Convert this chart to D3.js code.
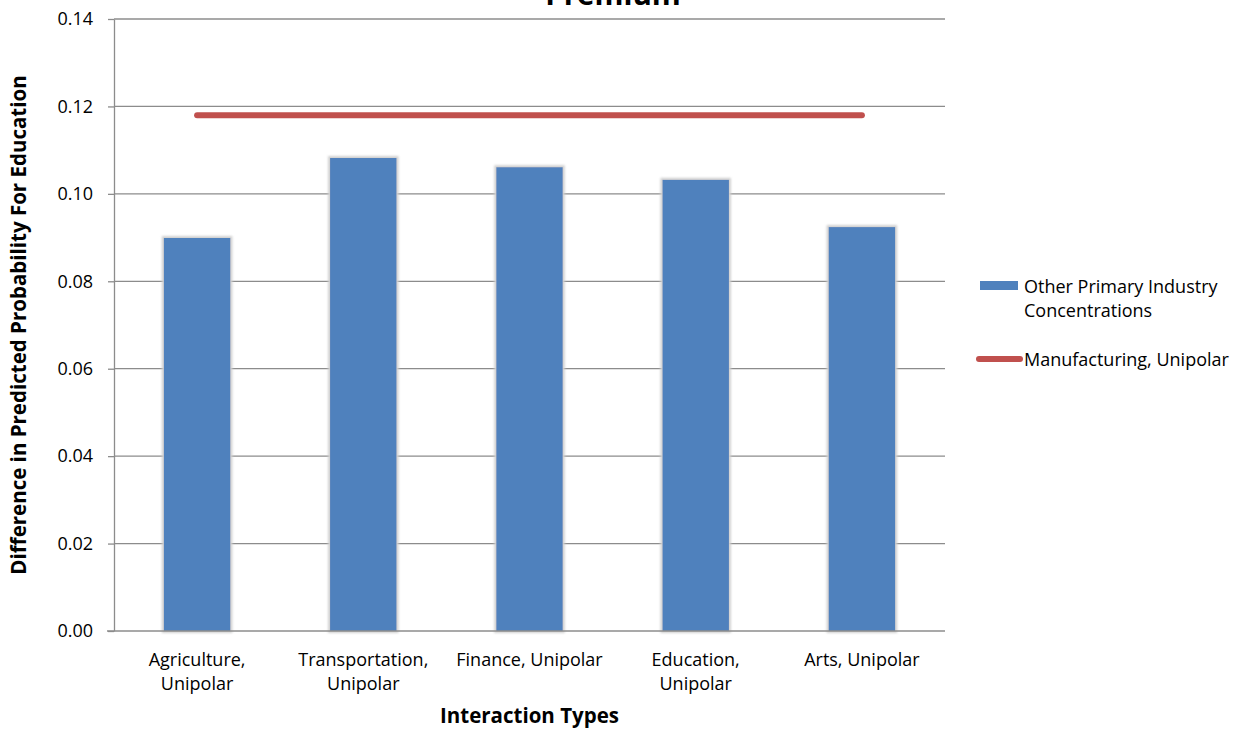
<!DOCTYPE html>
<html>
<head>
<meta charset="utf-8">
<script src="https://cdn.jsdelivr.net/npm/d3@7"></script>
<style>
  html, body { margin: 0; padding: 0; background: #fff; }
  svg { display: block; font-family: "Open Sans", "Liberation Sans", sans-serif; }
</style>
</head>
<body>
<svg id="chart" width="1246" height="731"></svg>
<script>
// Chart data
const categories = [
  ["Agriculture,", "Unipolar"],
  ["Transportation,", "Unipolar"],
  ["Finance, Unipolar"],
  ["Education,", "Unipolar"],
  ["Arts, Unipolar"]
];
const categoryKeys = categories.map(c => c.join(" "));
const otherConcentrations = [0.0899, 0.1082, 0.1061, 0.1032, 0.0924];
const manufacturingUnipolar = [0.118, 0.118, 0.118, 0.118, 0.118];
const yTicks = [0, 0.02, 0.04, 0.06, 0.08, 0.10, 0.12, 0.14];
const seriesNames = ["Other Primary Industry Concentrations", "Manufacturing, Unipolar"];

const barColor = "#4F81BD";
const lineColor = "#C0504D";
const gridColor = "#8c8c8c";

const svg = d3.select("#chart");
const plot = { left: 114, right: 945, top: 19, bottom: 631 };

const x = d3.scaleBand().domain(categoryKeys).range([plot.left, plot.right]).paddingInner(0.6).paddingOuter(0.3);
const xc = d3.scalePoint().domain(categoryKeys).range([plot.left, plot.right]).padding(0.5);
const y = d3.scaleLinear().domain([0, 0.14]).range([plot.bottom, plot.top]);

// Horizontal gridlines
svg.append("g").selectAll("line").data(yTicks.filter(t => t > 0)).join("line")
  .attr("x1", plot.left).attr("x2", plot.right)
  .attr("y1", d => y(d)).attr("y2", d => y(d))
  .attr("stroke", gridColor).attr("stroke-width", 1.3);

// Y axis
const yAxis = svg.append("g").attr("transform", `translate(${plot.left},0)`)
  .call(d3.axisLeft(y).tickValues(yTicks).tickFormat(d3.format(".2f")).tickSize(6).tickSizeOuter(0));
yAxis.select(".domain").attr("stroke", gridColor).attr("stroke-width", 1.3);
yAxis.selectAll(".tick line").attr("stroke", gridColor).attr("stroke-width", 1.3);
yAxis.selectAll(".tick text").attr("font-size", 18).attr("fill", "#000").attr("x", -21)
  .style("font-family", "'Open Sans', sans-serif");

// Soft grey edge around bars
const defs = svg.append("defs");
const f = defs.append("filter").attr("id", "shadow").attr("x", "-20%").attr("y", "-5%").attr("width", "140%").attr("height", "110%");
f.append("feMorphology").attr("in", "SourceAlpha").attr("operator", "dilate").attr("radius", 1.5).attr("result", "d");
f.append("feGaussianBlur").attr("in", "d").attr("stdDeviation", 0.8).attr("result", "b");
f.append("feFlood").attr("flood-color", "#d0d0d0").attr("result", "c");
f.append("feComposite").attr("in", "c").attr("in2", "b").attr("operator", "in").attr("result", "s");
const fm = f.append("feMerge");
fm.append("feMergeNode").attr("in", "s");
fm.append("feMergeNode").attr("in", "SourceGraphic");

// Bars
svg.append("g").selectAll("rect").data(otherConcentrations).join("rect")
  .attr("x", (d, i) => x(categoryKeys[i]))
  .attr("width", x.bandwidth())
  .attr("y", d => y(d))
  .attr("height", d => y(0) - y(d))
  .attr("fill", barColor)
  .attr("filter", "url(#shadow)");

// X axis baseline
svg.append("line").attr("x1", plot.left - 7).attr("x2", plot.right)
  .attr("y1", plot.bottom).attr("y2", plot.bottom)
  .attr("stroke", gridColor).attr("stroke-width", 1.3);

// Manufacturing line
const line = d3.line().x((d, i) => xc(categoryKeys[i])).y(d => y(d));
svg.append("path").datum(manufacturingUnipolar)
  .attr("d", line).attr("fill", "none")
  .attr("stroke", lineColor).attr("stroke-width", 6).attr("stroke-linecap", "round");

// Category labels
const xl = svg.append("g").selectAll("text").data(categories).join("text")
  .attr("x", (d, i) => xc(categoryKeys[i]))
  .attr("y", 666)
  .attr("text-anchor", "middle")
  .attr("font-size", 18)
  .attr("fill", "#000");
xl.selectAll("tspan").data(d => d).join("tspan")
  .attr("x", function () { return this.parentNode.getAttribute("x"); })
  .attr("dy", (d, i) => i === 0 ? 0 : 24)
  .text(d => d);

// Titles
svg.append("text").attr("x", 613).attr("y", 5).attr("text-anchor", "middle")
  .attr("font-size", 29.5).attr("font-weight", "bold").text("Premium");

svg.append("text").attr("x", (plot.left + plot.right) / 2).attr("y", 723).attr("text-anchor", "middle")
  .attr("font-size", 20.5).attr("font-weight", "bold").text("Interaction Types");

svg.append("text")
  .attr("transform", `translate(26,${(plot.top + plot.bottom) / 2}) rotate(-90)`)
  .attr("text-anchor", "middle")
  .attr("font-size", 20.5).attr("font-weight", "bold")
  .text("Difference in Predicted Probability For Education");

// Legend
const lg = svg.append("g");
lg.append("rect").attr("x", 980).attr("y", 281).attr("width", 38).attr("height", 9).attr("fill", barColor);
lg.append("text").attr("x", 1024).attr("y", 293).attr("font-size", 18)
  .selectAll("tspan").data(["Other Primary Industry", "Concentrations"]).join("tspan")
  .attr("x", 1024).attr("dy", (d, i) => i === 0 ? 0 : 24).text(d => d);
lg.append("line").attr("x1", 979).attr("x2", 1020).attr("y1", 359).attr("y2", 359)
  .attr("stroke", lineColor).attr("stroke-width", 6).attr("stroke-linecap", "round");
lg.append("text").attr("x", 1024).attr("y", 366).attr("font-size", 18).text(seriesNames[1]);
</script>
</body>
</html>
